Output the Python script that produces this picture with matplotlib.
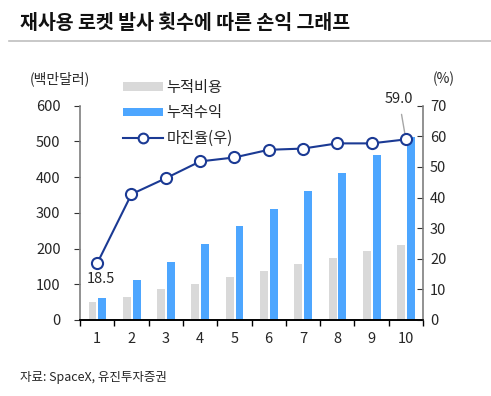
import matplotlib
matplotlib.use("Agg")
import matplotlib.pyplot as plt
from matplotlib.lines import Line2D
from matplotlib.patches import Patch
import numpy as np

plt.rcParams['font.family'] = ['Noto Sans CJK KR', 'DejaVu Sans']

launches = [1, 2, 3, 4, 5, 6, 7, 8, 9, 10]
cum_cost = [50, 65, 86, 102, 121, 137, 158, 173, 193, 209]
cum_revenue = [62, 112, 162, 212, 262, 312, 362, 412, 462, 512]
margin = [18.5, 41.1, 46.3, 51.8, 53.1, 55.6, 56.0, 57.7, 57.7, 59.0]
left_ticks = [0, 100, 200, 300, 400, 500, 600]
right_ticks = [0, 10, 20, 30, 40, 50, 60, 70]

title = "재사용 로켓 발사 횟수에 따른 손익 그래프"
source = "자료: SpaceX, 유진투자증권"

gray = '#d9d9d9'
blue = '#4da6ff'
navy = '#1b3a94'
txt = '#262626'

fig = plt.figure(figsize=(4.91, 3.96), dpi=100)
ax = fig.add_axes([0.163, 0.192, 0.6985, 0.541])
ax2 = ax.twinx()

x = np.array(launches, dtype=float)
w = 0.23
ax.bar(x - 0.135, cum_cost, width=w, color=gray, zorder=2)
ax.bar(x + 0.15, cum_revenue, width=w, color=blue, zorder=2)

ax.set_xlim(0.5, 10.5)
ax.set_ylim(0, 600)
ax.set_yticks(left_ticks)
ax.set_xticks(launches)
ax.set_xticks(np.arange(0.5, 11.0, 1.0), minor=True)
ax.tick_params(axis='x', which='major', length=0, pad=9, labelsize=10.5, labelcolor=txt)
ax.tick_params(axis='x', which='minor', length=4, direction='out', color='black', width=1)
ax.tick_params(axis='y', length=4, direction='out', color='#333333', labelsize=10.5, labelcolor=txt, pad=10)

ax2.plot(x, margin, color=navy, lw=1.5, marker='o', markersize=8,
         markerfacecolor='white', markeredgecolor=navy, markeredgewidth=1.5, zorder=5)
ax2.set_ylim(0, 70)
ax2.set_yticks(right_ticks)
ax2.tick_params(axis='y', length=4, direction='in', color='#333333', labelsize=10.5, labelcolor=txt, pad=5)

for a in (ax, ax2):
    a.spines['top'].set_visible(False)
    a.spines['left'].set_color('#7f7f7f')
    a.spines['right'].set_color('#7f7f7f')
    a.spines['bottom'].set_color('black')
    a.spines['left'].set_linewidth(1.2)
    a.spines['right'].set_linewidth(1.2)
    a.spines['bottom'].set_linewidth(1.2)
    a.patch.set_visible(False)
ax2.spines['left'].set_visible(False)
ax.spines['right'].set_visible(False)

ax2.annotate(f"{margin[0]:.1f}", xy=(x[0], margin[0]), xytext=(2.5, -11),
             textcoords='offset points', ha='center', va='center',
             fontsize=10.5, color=txt)
ax2.annotate(f"{margin[-1]:.1f}", xy=(x[-1], margin[-1]), xytext=(-5, 29),
             textcoords='offset points', ha='center', va='center',
             fontsize=10.5, color=txt,
             arrowprops=dict(arrowstyle='-', color='#a6a6a6', lw=1,
                             shrinkA=4, shrinkB=4))

handles = [Patch(facecolor=gray, edgecolor='none'),
           Patch(facecolor=blue, edgecolor='none'),
           Line2D([0], [0], color=navy, lw=1.5, marker='o', markersize=7,
                  markerfacecolor='white', markeredgecolor=navy, markeredgewidth=1.5)]
labels = ["누적비용", "누적수익", "마진율(우)"]
fig.legend(handles, labels, loc='upper left', bbox_to_anchor=(123/491, 1 - 79/396),
           frameon=False, fontsize=11, handlelength=2.6, handleheight=0.5,
           handletextpad=0.25, labelspacing=0.55, borderpad=0, borderaxespad=0,
           labelcolor=txt)

fig.text(20/491, 1 - 23/396, title, fontsize=14, fontweight='bold', color='#111111',
         ha='left', va='center')
fig.add_artist(Line2D([9/491, 1.0], [1 - 41/396, 1 - 41/396], color='#bfbfbf', lw=1.2))
fig.text(60/491, 1 - 79/396, "(백만달러)", fontsize=10, color=txt, ha='center', va='center')
fig.text(444/491, 1 - 79/396, "(%)", fontsize=10, color=txt, ha='center', va='center')
fig.text(20/491, 1 - 378/396, source, fontsize=9, color=txt, ha='left', va='center')

fig.savefig('out.png', dpi=100)
